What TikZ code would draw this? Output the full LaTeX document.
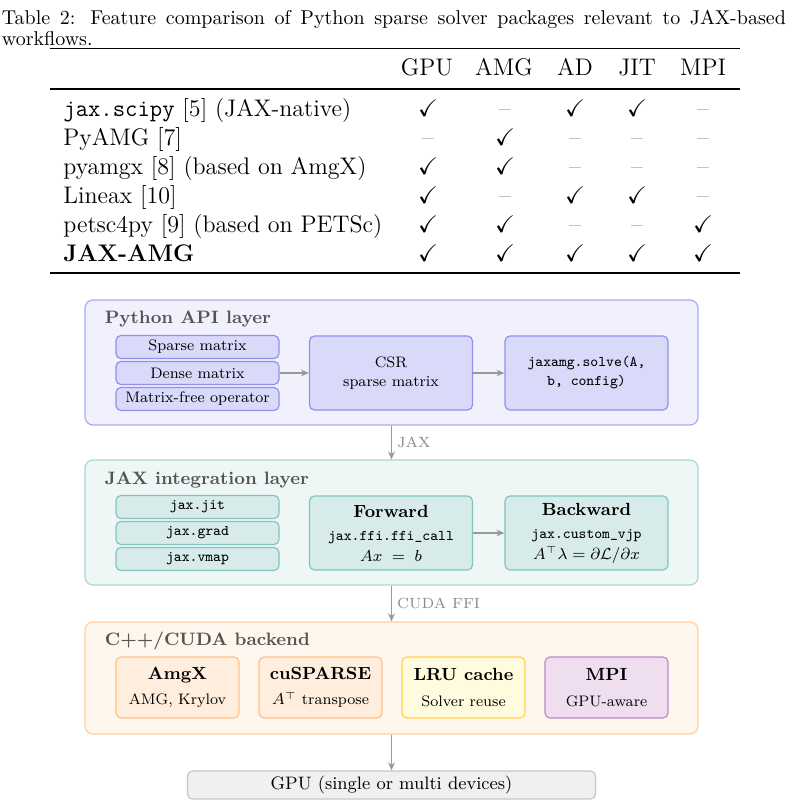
\documentclass[tikz,border=0pt]{standalone}
\usepackage{amssymb}
\usetikzlibrary{arrows.meta}
\definecolor{pyfill}{HTML}{F1F1FD}
\definecolor{pydraw}{HTML}{ABABF3}
\definecolor{pyin}{HTML}{D9D9FA}
\definecolor{pyindraw}{HTML}{9090EE}
\definecolor{jxfill}{HTML}{EEF7F6}
\definecolor{jxdraw}{HTML}{A8D7D3}
\definecolor{jxin}{HTML}{D6EBEA}
\definecolor{jxindraw}{HTML}{82C5C0}
\definecolor{cufill}{HTML}{FFF6ED}
\definecolor{cudraw}{HTML}{FFD0A2}
\definecolor{orin}{HTML}{FFEEDD}
\definecolor{orindraw}{HTML}{FFC08A}
\definecolor{yein}{HTML}{FFFBDF}
\definecolor{yeindraw}{HTML}{FFD54A}
\definecolor{puin}{HTML}{EEDEF0}
\definecolor{puindraw}{HTML}{BC8ACB}
\definecolor{gpufill}{HTML}{F0F0F0}
\definecolor{gpudraw}{HTML}{C6C6C6}
\definecolor{arr}{HTML}{9A9A9A}
\definecolor{lblgray}{HTML}{8A8A8A}
\definecolor{titlegray}{HTML}{555555}
\definecolor{dashgray}{HTML}{808080}
\newcommand\capfont{\fontsize{10}{12}\selectfont}
\newcommand\tabfont{\fontsize{12}{14.5}\selectfont}
\newcommand\ttlfont{\fontsize{9}{11}\selectfont\bfseries}
\newcommand\bxfont{\fontsize{7.6}{9.5}\selectfont}
\newcommand\hdfont{\fontsize{8.8}{10.5}\selectfont\bfseries}
\newcommand\codefont{\fontsize{7.4}{9.5}\selectfont\ttfamily}
\newcommand\lblfont{\fontsize{7.4}{9}\selectfont}
\newcommand\gpufont{\fontsize{9}{11}\selectfont}
\begin{document}
\begin{tikzpicture}[x=0.5pt,y=-0.5pt,
  layerbox/.style={draw, rounded corners=4pt, line width=0.6pt, minimum width=306.5pt, inner sep=0pt},
  inbox/.style={draw, rounded corners=2.5pt, line width=0.6pt, inner sep=0pt, align=center, font=\bxfont},
  sbox/.style={inbox, minimum width=81.5pt, minimum height=11.5pt},
  mbox/.style={inbox, minimum width=81.5pt, minimum height=37pt},
  cbox/.style={inbox, minimum width=61.5pt, minimum height=30.5pt},
  ttl/.style={anchor=base west, text=titlegray, font=\ttlfont, inner sep=0pt},
  flow/.style={draw=arr, line width=0.6pt, -{Stealth[length=4pt,width=3.4pt]}},
  flowlbl/.style={text=lblgray, font=\lblfont, right, inner sep=2.5pt},
  tcell/.style={anchor=base, inner sep=0pt, font=\tabfont},
  rowlbl/.style={anchor=base west, inner sep=0pt, font=\tabfont},
  trule/.style={line width=#1},
]
\useasboundingbox (0,0) rectangle (790,807);

% ---------- caption ----------
\node[anchor=base west, inner sep=0pt, font=\capfont] (cap1) at (1.5,24.5)
  {\makebox[392pt][s]{Table 2: Feature comparison of Python sparse solver packages relevant to JAX-based}};
\node[anchor=base west, inner sep=0pt, font=\capfont] (cap2) at (1.5,46) {workflows.};

% ---------- table ----------
\draw[trule=0.9pt] (50,48.5) -- (740,48.5);
\draw[trule=0.55pt] (50,89) -- (740,89);
\draw[trule=0.9pt] (50,273) -- (740,273);

\foreach \h [count=\j] in {GPU,AMG,AD,JIT,MPI} {
  \pgfmathsetmacro\cx{{427,504,575,637,703}[\j-1]}
  \node[tcell] (hd\j) at (\cx,76) {\h};
}
\foreach \lbl [count=\i] in {{\texttt{jax.scipy} [5] (JAX-native)},{PyAMG [7]},{pyamgx [8] (based on AmgX)},{Lineax [10]},{petsc4py [9] (based on PETSc)},{\textbf{JAX-AMG}}} {
  \node[rowlbl] (row\i) at (63,{117+29*(\i-1)}) {\lbl};
}
\foreach \marks [count=\i] in {{1,0,1,1,0},{0,1,0,0,0},{1,1,0,0,0},{1,0,1,1,0},{1,1,0,0,1},{1,1,1,1,1}} {
  \foreach \m [count=\j] in \marks {
    \pgfmathsetmacro\cx{{428,505,575,637,703}[\j-1]}
    \node[tcell] (c\i-\j) at (\cx,{117+29*(\i-1)}) {\ifnum\m=1 $\checkmark$\else{\color{dashgray}--}\fi};
  }
}

% ---------- Python API layer ----------
\node[layerbox, fill=pyfill, draw=pydraw, minimum height=62.5pt] (py) at (391.5,362.5) {};
\node[ttl] (pyt) at (104.5,323.5) {Python API layer};
\node[sbox, fill=pyin, draw=pyindraw] (sp) at (197.5,347) {Sparse matrix};
\node[sbox, fill=pyin, draw=pyindraw] (dn) at (197.5,373) {Dense matrix};
\node[sbox, fill=pyin, draw=pyindraw] (mf) at (197.5,399) {Matrix-free operator};
\node[mbox, fill=pyin, draw=pyindraw] (csr) at (391,373) {CSR\\sparse matrix};
\node[mbox, fill=pyin, draw=pyindraw, font=\codefont] (slv) at (586.5,373) {jaxamg.solve(A,\\b, config)};
\draw[flow] (dn) -- (csr);
\draw[flow] (csr) -- (slv);

% ---------- JAX integration layer ----------
\node[layerbox, fill=jxfill, draw=jxdraw, minimum height=62.5pt] (jx) at (391.5,522.5) {};
\node[ttl] (jxt) at (104.5,484) {JAX integration layer};
\node[sbox, fill=jxin, draw=jxindraw, font=\codefont] (jit) at (197.5,507) {jax.jit};
\node[sbox, fill=jxin, draw=jxindraw, font=\codefont] (grd) at (197.5,533) {jax.grad};
\node[sbox, fill=jxin, draw=jxindraw, font=\codefont] (vmp) at (197.5,559) {jax.vmap};
\node[mbox, fill=jxin, draw=jxindraw] (fwd) at (391,533)
  {{\hdfont Forward}\\[2.4pt]{\codefont jax.ffi.ffi\_call}\\[0.6pt]$Ax \;=\; b$};
\node[mbox, fill=jxin, draw=jxindraw] (bwd) at (586.5,533)
  {{\hdfont Backward}\\[2.4pt]{\codefont jax.custom\_vjp}\\[0.6pt]$A^{\top}\lambda = \partial\mathcal{L}/\partial x$};
\draw[flow] (fwd) -- (bwd);

% ---------- C++/CUDA backend ----------
\node[layerbox, fill=cufill, draw=cudraw, minimum height=56pt] (cu) at (391.5,678) {};
\node[ttl] (cut) at (104.5,645.5) {C++/CUDA backend};
\node[cbox, fill=orin, draw=orindraw] (amgx) at (177.5,687.5) {{\hdfont AmgX}\\[3.2pt]AMG, Krylov};
\node[cbox, fill=orin, draw=orindraw] (cusp) at (320.5,687.5) {{\hdfont cuSPARSE}\\[3.2pt]$A^{\top}$ transpose};
\node[cbox, fill=yein, draw=yeindraw] (lru) at (463.5,687.5) {{\hdfont LRU cache}\\[3.2pt]Solver reuse};
\node[cbox, fill=puin, draw=puindraw] (mpi) at (606.5,687.5) {{\hdfont MPI}\\[3.2pt]GPU-aware};

% ---------- GPU ----------
\node[draw=gpudraw, fill=gpufill, rounded corners=2.5pt, line width=0.6pt, minimum width=204pt, minimum height=14pt, inner sep=0pt, font=\gpufont] (gpu) at (391.5,785) {GPU (single or multi devices)};

% ---------- layer connectors ----------
\draw[flow] (py) -- node[flowlbl] {JAX} (jx);
\draw[flow] (jx) -- node[flowlbl] {CUDA FFI} (cu);
\draw[flow] (cu) -- (gpu);
\end{tikzpicture}
\end{document}
